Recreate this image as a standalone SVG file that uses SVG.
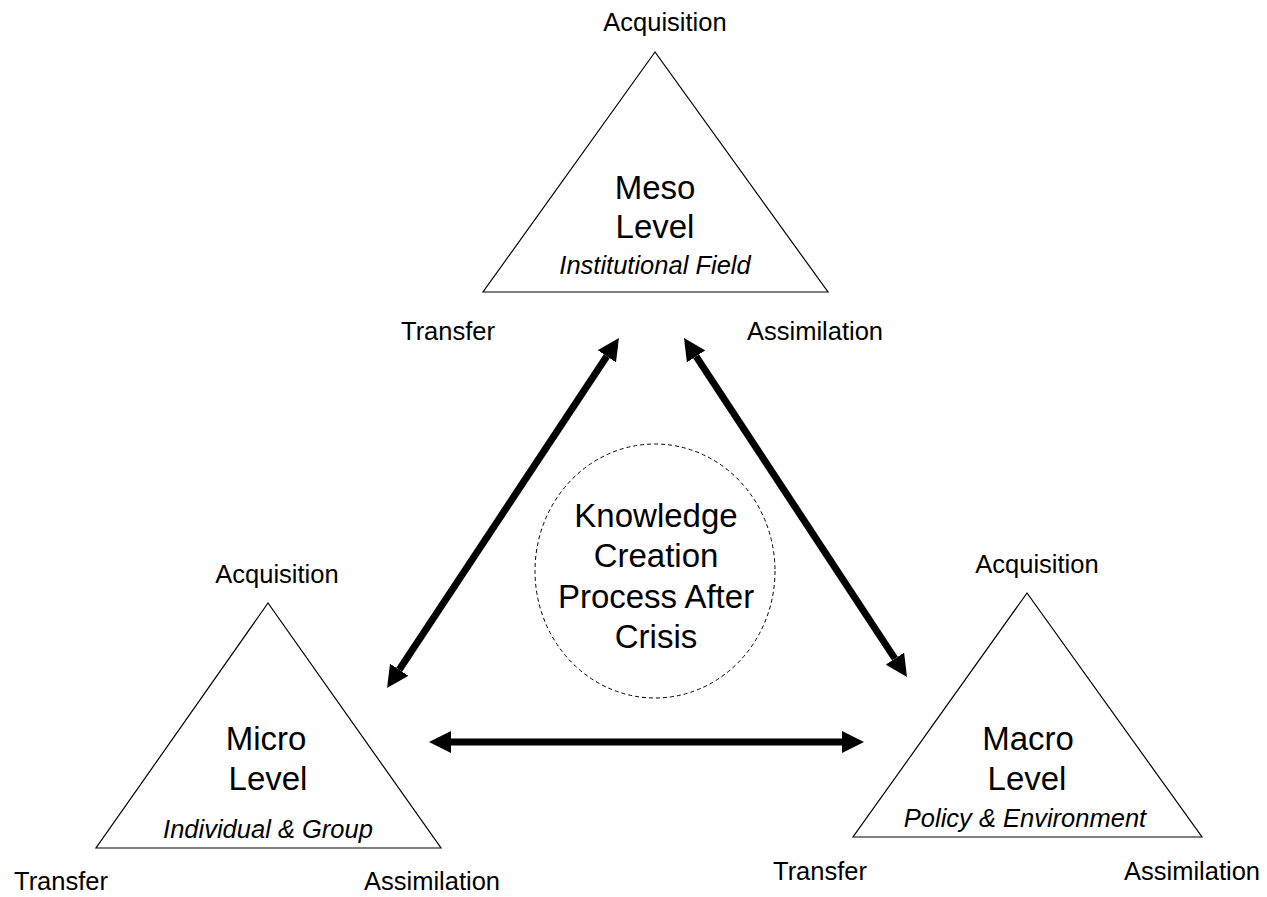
<svg xmlns="http://www.w3.org/2000/svg" width="1267" height="897" viewBox="0 0 1267 897">
<style>
text{font-family:"Liberation Sans",Arial,sans-serif;fill:#000;text-anchor:middle}
.lbl{font-size:25.5px}
.big{font-size:33px}
.sub{font-size:25.5px;font-style:italic}
.tri{fill:#fff;stroke:#000;stroke-width:1.2}
.conn{stroke:#000;stroke-width:7;fill:none;marker-start:url(#ah);marker-end:url(#ah)}
</style>
<defs>
<marker id="ah" viewBox="0 0 10 10" refX="0" refY="5" markerUnits="userSpaceOnUse" markerWidth="22" markerHeight="22" orient="auto-start-reverse">
<path d="M0,0 L10,5 L0,10 z" fill="#000"/>
</marker>
</defs>
<rect width="1267" height="897" fill="#fff"/>
<g id="meso">
<polygon class="tri" points="655,52 483,292 828,292"/>
<text class="big" x="655" y="199">Meso</text>
<text class="big" x="655" y="238">Level</text>
<text class="sub" x="655" y="274">Institutional Field</text>
<text class="lbl" x="665" y="31">Acquisition</text>
<text class="lbl" x="448" y="340">Transfer</text>
<text class="lbl" x="815" y="340">Assimilation</text>
</g>
<g id="micro">
<polygon class="tri" points="268,603 96,848 441,848"/>
<text class="big" x="266" y="750">Micro</text>
<text class="big" x="268" y="790">Level</text>
<text class="sub" x="268" y="838">Individual &amp; Group</text>
<text class="lbl" x="277" y="583">Acquisition</text>
<text class="lbl" x="61" y="890">Transfer</text>
<text class="lbl" x="432" y="890">Assimilation</text>
</g>
<g id="macro">
<polygon class="tri" points="1027,593 853,837 1202,837"/>
<text class="big" x="1028" y="750">Macro</text>
<text class="big" x="1027" y="790">Level</text>
<text class="sub" x="1025" y="827">Policy &amp; Environment</text>
<text class="lbl" x="1037" y="573">Acquisition</text>
<text class="lbl" x="820" y="880">Transfer</text>
<text class="lbl" x="1192" y="880">Assimilation</text>
</g>
<g id="center">
<ellipse cx="655" cy="571" rx="120" ry="127" fill="none" stroke="#000" stroke-width="1" stroke-dasharray="4,3"/>
<text class="big" x="656" y="527">Knowledge</text>
<text class="big" x="656" y="567">Creation</text>
<text class="big" x="656" y="608">Process After</text>
<text class="big" x="656" y="648">Crisis</text>
</g>
<g id="connectors">
<line class="conn" x1="399.2" y1="669.7" x2="606.8" y2="356.3"/>
<line class="conn" x1="696.1" y1="356.4" x2="894.9" y2="658.6"/>
<line class="conn" x1="451" y1="742" x2="842" y2="742"/>
</g>
</svg>
